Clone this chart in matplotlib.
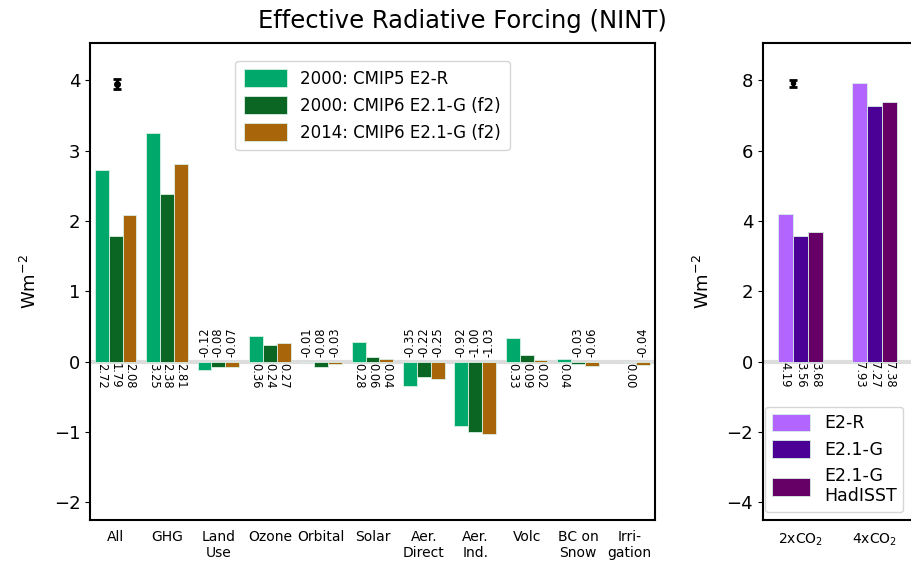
import numpy as np
import matplotlib.pyplot as plt

# forcing agents and ERF values (W m-2)
agents = ['All', 'GHG', 'Land\nUse', 'Ozone', 'Orbital', 'Solar', 'Aer.\nDirect',
          'Aer.\nInd.', 'Volc', 'BC on\nSnow', 'Irri-\ngation']
erf_e2r_2000 = [2.72, 3.25, -0.12, 0.36, -0.01, 0.28, -0.35, -0.92, 0.33, 0.04, np.nan]
erf_e21g_2000 = [1.79, 2.38, -0.08, 0.24, -0.08, 0.06, -0.22, -1.00, 0.09, -0.03, 0.00]
erf_e21g_2014 = [2.08, 2.81, -0.07, 0.27, -0.03, 0.04, -0.25, -1.03, 0.02, -0.06, -0.04]
left_names = ['2000: CMIP5 E2-R', '2000: CMIP6 E2.1-G (f2)', '2014: CMIP6 E2.1-G (f2)']
left_colors = ['#00a86b', '#0b6623', '#a8650a']

# CO2 experiments
co2_runs = ['2xCO$_2$', '4xCO$_2$']
co2_e2r = [4.19, 7.93]
co2_e21g = [3.56, 7.27]
co2_hadisst = [3.68, 7.38]
right_names = ['E2-R', 'E2.1-G', 'E2.1-G\nHadISST']
right_colors = ['#b266ff', '#4b0096', '#660066']

# observational estimate markers
obs_all = (0.03, 3.95, 0.07)
obs_2x = (-0.1, 7.92, 0.1)

fig = plt.figure(figsize=(9.11, 5.62), dpi=100)
ax1 = fig.add_axes([0.0988, 0.0747, 0.6202, 0.8488])
ax2 = fig.add_axes([0.8375, 0.0747, 0.1636, 0.8488])


def draw_bars(ax, series, colors, names, width, fs):
    x = np.arange(len(series[0]))
    offsets = [-width, 0, width]
    for vals, col, name, off in zip(series, colors, names, offsets):
        vals = np.array(vals, dtype=float)
        ax.bar(x + off, vals, width, color=col, edgecolor='#d8f0e4', linewidth=0.6,
               label=name, zorder=2)
        for xi, v in zip(x + off, vals):
            if np.isnan(v):
                continue
            if v >= 0:
                ax.text(xi, -0.02, '%.2f' % v, rotation=270, ha='center', va='top',
                        fontsize=fs, zorder=4)
            else:
                ax.text(xi, 0.07, '%.2f' % v, rotation=90, ha='center', va='bottom',
                        fontsize=fs, zorder=4)
    return x


x1 = draw_bars(ax1, [erf_e2r_2000, erf_e21g_2000, erf_e21g_2014], left_colors,
               left_names, 0.27, 8.3)
ax1.axhline(0, color='#dddddd', lw=3, zorder=1)
ax1.errorbar(obs_all[0], obs_all[1], yerr=obs_all[2], fmt='o', color='k', ms=4,
             capsize=3, capthick=2, elinewidth=2, zorder=5)
ax1.set_xlim(-0.5, 10.5)
ax1.set_ylim(-2.25, 4.53)
ax1.set_xticks(x1)
ax1.set_xticklabels(agents, fontsize=10)
ax1.tick_params(axis='x', length=0, pad=7)
ax1.tick_params(axis='y', labelsize=13)
ax1.set_ylabel('Wm$^{-2}$', fontsize=13, labelpad=10)
for s in ax1.spines.values():
    s.set_linewidth(1.5)
ax1.legend(loc='upper center', bbox_to_anchor=(0.5, 0.98), fontsize=12,
           handlelength=2.6, handleheight=1.3, borderpad=0.5, labelspacing=0.5)

x2 = draw_bars(ax2, [co2_e2r, co2_e21g, co2_hadisst], right_colors, right_names, 0.2, 8.3)
ax2.axhline(0, color='#dddddd', lw=3, zorder=1)
ax2.errorbar(obs_2x[0], obs_2x[1], yerr=obs_2x[2], fmt='o', color='k', ms=3,
             capsize=3, capthick=2, elinewidth=2, zorder=5)
ax2.set_xlim(-0.5, 1.5)
ax2.set_ylim(-4.5, 9.06)
ax2.set_xticks(x2)
ax2.set_xticklabels(co2_runs, fontsize=10)
ax2.tick_params(axis='x', length=0, pad=8)
ax2.tick_params(axis='y', labelsize=13)
ax2.set_ylabel('Wm$^{-2}$', fontsize=13, labelpad=10)
for s in ax2.spines.values():
    s.set_linewidth(1.5)
ax2.legend(loc='lower left', bbox_to_anchor=(0.012, 0.016), borderaxespad=0,
           fontsize=12.5, handlelength=2.2, handleheight=1.2, borderpad=0.4,
           labelspacing=0.45)

fig.text(0.508, 0.962, 'Effective Radiative Forcing (NINT)', ha='center', va='center',
         fontsize=17.5)

fig.savefig('out.png', dpi=100)
